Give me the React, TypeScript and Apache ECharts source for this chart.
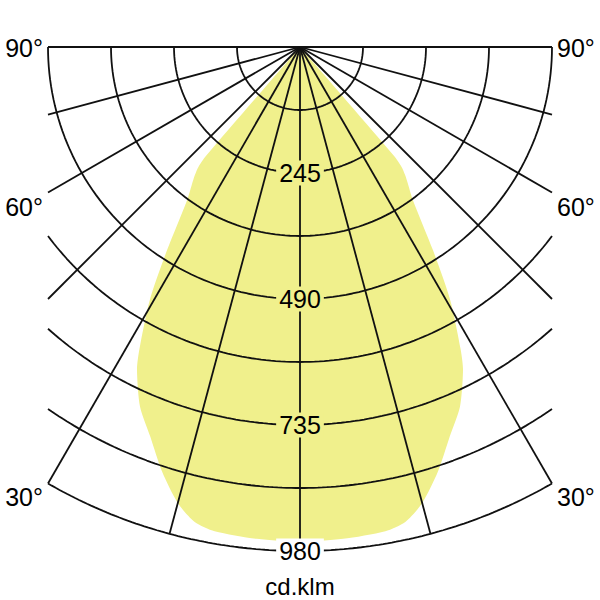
import React, { useEffect, useRef } from "react";
import * as echarts from "echarts";

// Intensity grid (cd/klm)
const ringValues = [122.5, 245, 367.5, 490, 612.5, 735, 857.5, 980];
const labeledRings = [245, 490, 735, 980];
const spokeAngles = [-90, -75, -60, -45, -30, -15, 0, 15, 30, 45, 60, 75, 90];
const angleLabels = ["90°", "60°", "30°"];
const unitLabel = "cd.klm";

// Light distribution curve (symmetric): angle from nadir (deg) -> intensity (cd/klm)
const curveAngles = [0, 5, 10, 12.5, 15, 18, 21, 24, 26.8, 28, 30.7, 33.2, 36.4, 38.2, 39.4, 40.3, 40.8, 41.5];
const curveValues = [962, 960, 956, 946, 918, 868, 812, 765, 703, 665, 572, 472, 370, 340, 322, 305, 280, 0];

const HALF_W = 490;
const R_MAX = 980;
const YELLOW = "#f0f08c";
const LINE = "#111";
const FONT = "'Liberation Sans', Arial, Helvetica, sans-serif";

const rad = (d: number) => (d * Math.PI) / 180;
const toXY = (deg: number, r: number): [number, number] => [r * Math.sin(rad(deg)), -r * Math.cos(rad(deg))];

export default function App() {
  const ref = useRef<HTMLDivElement>(null);
  useEffect(() => {
    if (!ref.current) return;
    const chart = echarts.init(ref.current, undefined, { renderer: "svg" });

    // closed polar curve
    const curvePts: [number, number][] = [];
    for (let i = curveAngles.length - 1; i >= 0; i--) curvePts.push(toXY(-curveAngles[i], curveValues[i]));
    for (let i = 1; i < curveAngles.length; i++) curvePts.push(toXY(curveAngles[i], curveValues[i]));

    const lineStyle = { color: LINE, width: 1.8 };

    const ringSeries = ringValues.map((r) => {
      const tMax = r <= HALF_W ? 90 : (Math.asin(HALF_W / r) * 180) / Math.PI;
      const pts: [number, number][] = [];
      const n = 120;
      for (let i = 0; i <= n; i++) pts.push(toXY(-tMax + (2 * tMax * i) / n, r));
      return {
        type: "line",
        data: pts,
        showSymbol: false,
        symbol: "none",
        silent: true,
        clip: false,
        z: 2,
        lineStyle,
      };
    });

    const spokeSeries = spokeAngles.map((a) => {
      const s = Math.abs(Math.sin(rad(a)));
      const len = s < 1e-9 ? R_MAX : Math.min(R_MAX, HALF_W / s);
      return {
        type: "line",
        data: [[0, 0], toXY(a, len)],
        showSymbol: false,
        symbol: "none",
        silent: true,
        clip: false,
        z: 2,
        lineStyle,
      };
    });

    const textStyle = (text: string, size: number, align: string) => ({
      text,
      fontSize: size,
      fontFamily: FONT,
      fill: "#000",
      align,
      verticalAlign: "middle",
    });

    const option: any = {
      animation: false,
      backgroundColor: "#fff",
      grid: { left: 48, right: 48, top: 47, bottom: 49 },
      xAxis: { type: "value", min: -HALF_W, max: HALF_W, show: false },
      yAxis: { type: "value", min: -R_MAX, max: 0, show: false },
      series: [
        {
          type: "custom",
          data: [[0, 0]],
          silent: true,
          clip: false,
          z: 1,
          renderItem: (params: any, api: any) => {
            if (params.dataIndex !== 0) return null;
            const points = curvePts.map((p) => api.coord(p));
            return {
              type: "polygon",
              shape: { points, smooth: 0.25 },
              style: { fill: YELLOW, stroke: "none" },
            };
          },
        },
        ...ringSeries,
        ...spokeSeries,
        {
          type: "scatter",
          symbolSize: 1,
          silent: true,
          z: 5,
          itemStyle: { color: "#000", opacity: 0 },
          data: labeledRings.map((v) => ({
            value: [0, -v],
            label: { backgroundColor: v === 980 ? "#fff" : YELLOW },
          })),
          label: {
            show: true,
            position: "inside",
            formatter: (p: any) => String(-p.value[1]),
            color: "#000",
            opacity: 1,
            textBorderWidth: 0,
            textBorderColor: "transparent",
            fontSize: 25,
            fontFamily: FONT,
            lineHeight: 25,
            padding: [0, 3],
          },
        },
      ],
      graphic: [
        { type: "text", x: 43, y: 48, style: textStyle(angleLabels[0], 25, "right") },
        { type: "text", x: 43, y: 207, style: textStyle(angleLabels[1], 25, "right") },
        { type: "text", x: 43, y: 497, style: textStyle(angleLabels[2], 25, "right") },
        { type: "text", x: 557, y: 48, style: textStyle(angleLabels[0], 25, "left") },
        { type: "text", x: 557, y: 207, style: textStyle(angleLabels[1], 25, "left") },
        { type: "text", x: 557, y: 497, style: textStyle(angleLabels[2], 25, "left") },
        { type: "text", x: 300, y: 586, style: textStyle(unitLabel, 24, "center") },
      ],
    };
    chart.setOption(option);
    return () => chart.dispose();
  }, []);
  return <div ref={ref} style={{ position: "fixed", left: 0, top: 0, width: 600, height: 600, background: "#fff" }} />;
}
